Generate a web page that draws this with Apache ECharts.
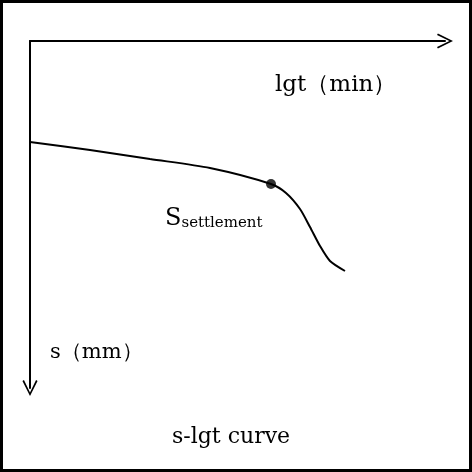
<!DOCTYPE html>
<html><head><meta charset="utf-8">
<script src="https://cdn.jsdelivr.net/npm/echarts@6/dist/echarts.min.js"></script>
<style>html,body{margin:0;padding:0;background:#fff}#c{width:472px;height:472px}</style>
</head><body><div id="c"></div>
<script>
const curveX = [0, 60, 120, 180, 241, 256, 270, 280, 290, 300, 315];
const curveY = [101, 109, 118, 127, 143, 152, 168, 186, 205, 220, 230];
const pointX = [241];
const pointY = [143];
const xName = 'lgt（min）';
const yName = 's（mm）';
const caption = 's-lgt curve';

const chart = echarts.init(document.getElementById('c'));
const serif = '"DejaVu Serif", "Liberation Serif", serif';
const chev = 'path://M0,10 L5,0 L10,10 L9,10.6 L5,2.4 L1,10.6 Z';
chart.setOption({
  animation: false,
  grid: {left: 30, top: 41, right: 27, bottom: 84},
  xAxis: {type: 'value', position: 'top', min: 0, max: 415,
    axisLine: {onZero: false, lineStyle: {color: '#000', width: 2}, symbol: ['none', chev], symbolSize: [22, 16]},
    axisTick: {show: false}, axisLabel: {show: false}, splitLine: {show: false}},
  yAxis: {type: 'value', inverse: true, min: 0, max: 347,
    axisLine: {onZero: false, lineStyle: {color: '#000', width: 2}, symbol: [chev, 'none'], symbolSize: [22, 16]},
    axisTick: {show: false}, axisLabel: {show: false}, splitLine: {show: false}},
  series: [
    {type: 'line', smooth: 0.25, symbol: 'none', data: curveX.map((x, i) => [x, curveY[i]]),
     lineStyle: {color: '#000', width: 2}},
    {type: 'scatter', symbolSize: 10, itemStyle: {color: '#000'}, data: pointX.map((x, i) => [x, pointY[i]])}
  ],
  graphic: [
    {type: 'rect', shape: {x: 1.5, y: 1.5, width: 469, height: 469}, style: {fill: 'none', stroke: '#000', lineWidth: 3}},
    {type: 'text', left: 275, top: 74, style: {text: xName, font: '23px ' + serif, fill: '#000'}},
    {type: 'text', left: 50, top: 342, style: {text: yName, font: '21px ' + serif, fill: '#000'}},
    {type: 'text', left: 165, top: 207, style: {
      text: '{a|S}{b|settlement}', rich: {
        a: {font: '24px ' + serif, fill: '#000', verticalAlign: 'bottom'},
        b: {font: '15px ' + serif, fill: '#000', padding: [14, 0, 0, 0], verticalAlign: 'bottom'}}}},
    {type: 'text', left: 172, top: 426, style: {text: caption, font: '22px ' + serif, fill: '#000'}}
  ]
});
</script></body></html>
